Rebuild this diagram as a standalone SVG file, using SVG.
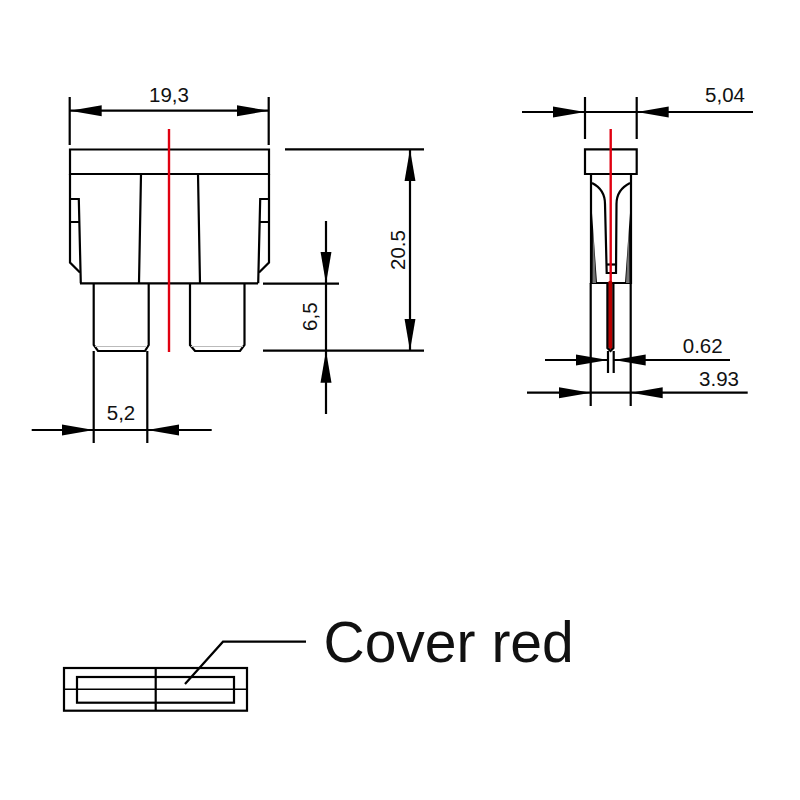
<svg xmlns="http://www.w3.org/2000/svg" width="800" height="800" viewBox="0 0 800 800">
<style>
.l{fill:none;stroke:#000;stroke-width:2.2;stroke-linejoin:miter}
.d{fill:none;stroke:#000;stroke-width:2.2}
.a{marker-end:url(#arrow)}
.r{fill:none;stroke:#e00010;stroke-width:2.4}
text{font-family:"Liberation Sans",Arial,sans-serif;font-size:20.5px;fill:#111;text-anchor:middle}
</style>
<defs>
<marker id="arrow" markerUnits="userSpaceOnUse" viewBox="0 0 32 12" refX="32" refY="6" markerWidth="32" markerHeight="12" orient="auto"><path d="M0,0.5 L32,6 L0,11.5 Z" fill="#000"/></marker>
</defs>
<rect width="800" height="800" fill="#fff"/>
<g id="front-view">
<path class="l" d="M70,149.5H269V174H70Z"/>
<path class="l" d="M70,174V262.5L80,272.5M269,174V262.5L259,272.5"/>
<path class="l" d="M80,283.3H258M70,199H78.8L80.8,283.3M269,199H260.2L258.2,283.3M70.5,222H79.5M268.5,222H259.5"/>
<path class="l" d="M141,174L139,283.3M198,174L200,283.3"/>
<path class="l" d="M93.7,283.3V345L98,351H145L148.7,345V283.3"/>
<path class="l" d="M190,283.3V345L195,351H240L244.5,345V283.3"/>
<path d="M95,346.5H147M191,346.5H243" fill="none" stroke="#bbb" stroke-width="1"/>
<path class="r" d="M169,129V352"/>
</g>
<g id="side-view">
<path class="l" d="M585,149.3H636.7V174H585Z"/>
<path class="l" d="M591,174V283H631V174"/>
<path class="l" d="M592,183C600,187 605,193 605,204L606.7,273H616L616.5,204C616.5,193 622,187 630,183"/>
<path d="M590,185L597,283H591ZM632,185L625,283H631Z" fill="#000"/>
<path d="M593,225L596,283H592.5ZM629,225L626,283H629.5Z" fill="#fff" opacity="0.45"/>
<path class="l" d="M606.7,264.5H616" stroke-width="1.6"/>
<path class="r" d="M610.7,129V283"/>
<path d="M610.3,283V347" fill="none" stroke="#b80000" stroke-width="4.5" stroke-linecap="round"/>
<path class="l" d="M607.4,283V348L610.5,351L613.4,348V283"/>
<path class="l" d="M608,351V373M613.7,351V373"/>
</g>
<g id="cover">
<rect class="l" x="64" y="668" width="183" height="42.7"/>
<rect class="l" x="77" y="677" width="157" height="25.7"/>
<path class="l" d="M155.7,668V710.7"/>
<path d="M64,689.3H247" fill="none" stroke="#000" stroke-width="1.6"/>
</g>
<g id="connectors">
<path class="d" d="M69.7,97V145M268.7,97V145M93.7,351V443M147.3,351V443M285,149.3H424M263,350.7H424M263,283.7H339"/>
<path class="d" d="M585,97V139M636.7,97V139M590.7,283V406M630.7,283V406"/>
<path class="d a" d="M169,110.7H69.7"/><path class="d a" d="M169,110.7H268.7"/>
<path class="d a" d="M31.7,430H93.7"/><path class="d a" d="M211.7,430H147.3"/><path class="d" d="M93.7,430H147.3"/>
<path class="d a" d="M410,250V149.3"/><path class="d a" d="M410,250V350.7"/>
<path class="d a" d="M326,221V283.7"/><path class="d a" d="M326,414V350.7"/><path class="d" d="M326,283.7V350.7"/>
<path class="d a" d="M522,112H585"/><path class="d a" d="M753,112H636.7"/><path class="d" d="M585,112H636.7"/>
<path class="d a" d="M545,360H608"/><path class="d a" d="M730,360H613.7"/>
<path class="d a" d="M527,392.7H590.7"/><path class="d a" d="M747.7,392.7H630.7"/><path class="d" d="M590.7,392.7H630.7"/>
<path class="d" d="M185,684L223,641.7H306"/>
</g>
<g id="labels">
<text x="169" y="101.5">19,3</text>
<text x="121" y="420">5,2</text>
<text transform="translate(405,250) rotate(-90)">20.5</text>
<text transform="translate(316.7,316.7) rotate(-90)">6,5</text>
<text x="725" y="101.5">5,04</text>
<text x="702.7" y="353">0.62</text>
<text x="719" y="386">3.93</text>
<text x="323.5" y="662" style="font-size:57px;text-anchor:start">Cover red</text>
</g>
</svg>
